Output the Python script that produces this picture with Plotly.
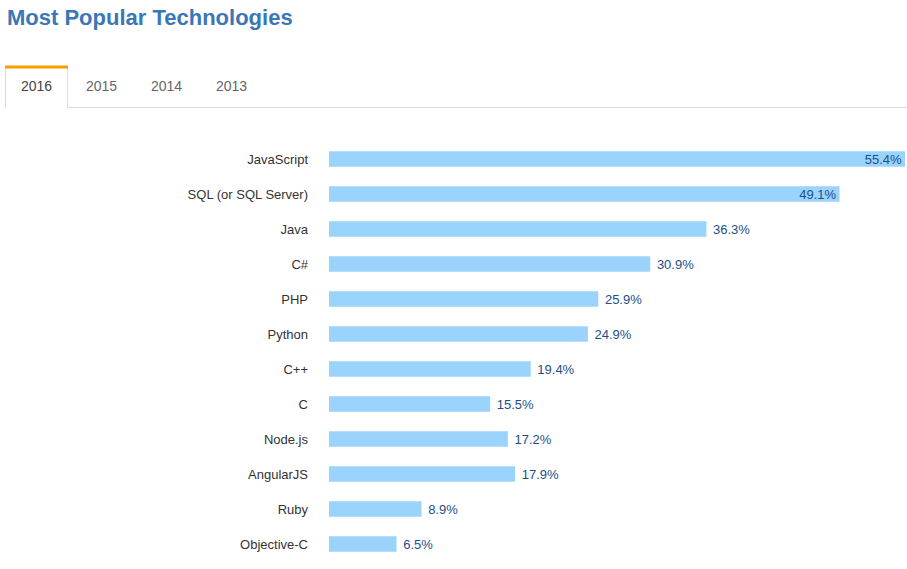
import plotly.graph_objects as go

categories = ["JavaScript", "SQL (or SQL Server)", "Java", "C#", "PHP", "Python",
              "C++", "C", "Node.js", "AngularJS", "Ruby", "Objective-C"]
values = [55.4, 49.1, 36.3, 30.9, 25.9, 24.9, 19.4, 15.5, 17.2, 17.9, 8.9, 6.5]
tabs = ["2016", "2015", "2014", "2013"]
title = "Most Popular Technologies"

W, H = 907, 569
BAR = "#9ad3fc"
TXT = "#1d4f87"
FONT = "Liberation Sans, Arial, Helvetica, sans-serif"

maxv = max(values)
positions = ["inside" if v > 0.85 * maxv else "outside" for v in values]
labels = [f"{v:.1f}%" if p == "inside" else f" {v:.1f}%" for v, p in zip(values, positions)]

fig = go.Figure(go.Bar(
    x=values, y=categories, orientation="h",
    marker=dict(color=BAR, line=dict(width=0)),
    text=labels, textposition=positions, insidetextanchor="end",
    textfont=dict(color=TXT, size=13, family=FONT),
    cliponaxis=False, hoverinfo="skip",
))

px = lambda x: x / W
py = lambda y: 1 - y / H

fig.update_layout(
    width=W, height=H, margin=dict(l=0, r=0, t=0, b=0),
    paper_bgcolor="white", plot_bgcolor="white",
    showlegend=False, bargap=0.56,
    uniformtext=dict(minsize=13, mode="show"),
    font=dict(family=FONT, color="#333", size=13),
    xaxis=dict(domain=[px(329), px(905)], range=[0, maxv], visible=False, fixedrange=True),
    yaxis=dict(domain=[py(561.5), py(141.5)], autorange="reversed", showgrid=False,
               zeroline=False, showline=False, ticks="", ticklabelstandoff=20,
               tickfont=dict(size=13, color="#333", family=FONT)),
)

# Title
fig.add_annotation(x=px(5), y=py(18), xref="paper", yref="paper", text=f"<b>{title}</b>",
                   showarrow=False, xanchor="left", yanchor="middle",
                   font=dict(size=22, color="#3a77b7", family=FONT))

# Tabs
shapes = [
    dict(type="line", xref="paper", yref="paper", x0=px(68), x1=px(907), y0=py(107.5), y1=py(107.5),
         line=dict(color="#dcdcdc", width=1)),
    dict(type="line", xref="paper", yref="paper", x0=px(5.5), x1=px(5.5), y0=py(67), y1=py(108),
         line=dict(color="#dcdcdc", width=1)),
    dict(type="line", xref="paper", yref="paper", x0=px(67.5), x1=px(67.5), y0=py(67), y1=py(108),
         line=dict(color="#dcdcdc", width=1)),
    dict(type="line", xref="paper", yref="paper", x0=px(5), x1=px(68), y0=py(67), y1=py(67),
         line=dict(color="#f6a000", width=3)),
]
fig.update_layout(shapes=shapes)

tab_x = [36, 101, 166, 231]
for i, (t, x) in enumerate(zip(tabs, tab_x)):
    fig.add_annotation(x=px(x), y=py(86), xref="paper", yref="paper", text=t, showarrow=False,
                       xanchor="center", yanchor="middle",
                       font=dict(size=14, color="#444" if i == 0 else "#666", family=FONT))

fig.write_html("out.html")
